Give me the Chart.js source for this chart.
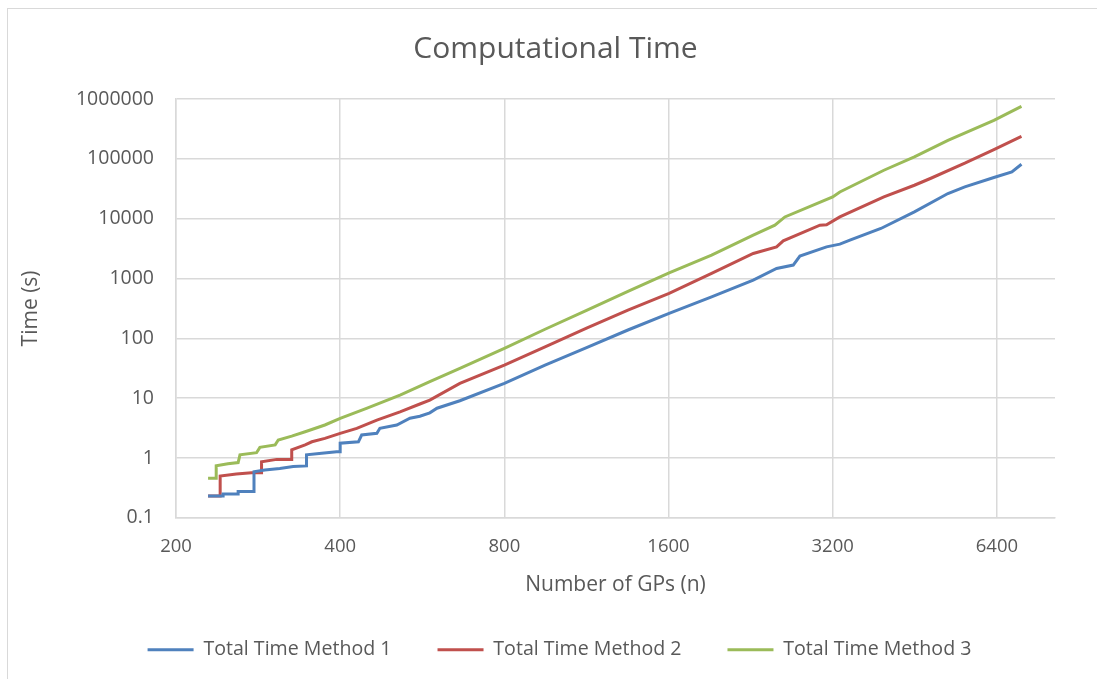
<!DOCTYPE html>
<html>
<head>
<meta charset="utf-8">
<title>Computational Time</title>
<script src="https://cdn.jsdelivr.net/npm/chart.js@4.4.1/dist/chart.umd.min.js"></script>
<style>
    html, body { margin: 0; padding: 0; background: #ffffff; }
    canvas { display: block; }
</style>
</head>
<body>
<canvas id="myChart" width="1097" height="679"></canvas>
<script>
"use strict";

let Chart = window.Chart;

// number of GPs (n) and total time (s)
const method1N = [229, 244, 244, 260, 260, 278, 278, 291, 310, 328, 347, 347, 370, 394, 400, 400, 432, 438, 467, 473,
    508, 537, 560, 584, 602, 663, 800, 950, 1132, 1348, 1604, 1919, 2288, 2525, 2709, 2786, 3118, 3298, 3441, 3922,
    4518, 5205, 5590, 6320, 6818, 7100];
const method1Time = [0.233, 0.233, 0.252, 0.252, 0.275, 0.275, 0.59, 0.63, 0.67, 0.72, 0.74, 1.13, 1.2, 1.28, 1.28, 1.77, 1.87, 2.43, 2.6, 3.14,
    3.57, 4.62, 5.0, 5.7, 6.8, 9.08, 17.7, 35.8, 70, 138, 261, 495, 940, 1470, 1680, 2370, 3380, 3750, 4380, 6860,
    13000, 26300, 34000, 48800, 60500, 81300];

const method2N = [229, 241, 241, 258, 275, 287, 287, 306, 326, 326, 345, 355, 375, 400, 429, 467, 515, 560, 584, 663,
    800, 950, 1132, 1348, 1604, 1919, 2288, 2525, 2597, 3032, 3118, 3298, 3972, 4518, 4844, 5590, 6320, 7100];
const method2Time = [0.233, 0.233, 0.50, 0.54, 0.57, 0.57, 0.87, 0.95, 0.95, 1.37, 1.66, 1.87, 2.13, 2.59, 3.14, 4.3, 5.93, 8.0, 9.3, 17.7,
    35.8, 72, 148, 297, 564, 1215, 2620, 3380, 4260, 7780, 7900, 10700, 23100, 36200, 47400, 84500, 143000, 238000];

const method3N = [229, 237, 237, 249, 260, 262, 281, 285, 304, 308, 326, 345, 375, 400, 447, 515, 584, 663, 800, 950,
    1132, 1348, 1604, 1919, 2288, 2507, 2615, 3200, 3298, 3972, 4518, 5205, 6320, 7100];
const method3Time = [0.46, 0.46, 0.74, 0.80, 0.84, 1.13, 1.23, 1.51, 1.66, 2.0, 2.33, 2.75, 3.57, 4.62, 6.77, 11.3, 18.9, 31.6, 68, 142,
    293, 610, 1244, 2460, 5310, 7780, 10700, 23100, 28000, 64500, 107700, 204000, 440000, 755000];

const seriesNames = ['Total Time Method 1', 'Total Time Method 2', 'Total Time Method 3'];
const xTicks = [200, 400, 800, 1600, 3200, 6400];
const yTicks = [0.1, 1, 10, 100, 1000, 10000, 100000, 1000000];

const colors = ['#4F81BD', '#C0504D', '#9BBB59'];
const textColor = '#595959';
const gridColor = '#D9D9D9';
const fontFamily = "'Open Sans', sans-serif";


function toPoints(xs, ys) {
    return xs.map((x, i) => ({x: x, y: ys[i]}));
}

function createDatasets() {
    const series = [
        toPoints(method1N, method1Time),
        toPoints(method2N, method2Time),
        toPoints(method3N, method3Time),
    ];
    return series.map((data, i) => ({
        label: seriesNames[i],
        data: data,
        borderColor: colors[i],
        backgroundColor: colors[i],
        borderWidth: 3,
        pointRadius: 0,
        tension: 0,
        fill: false,
    }));
}

// light frame round the chart, like the Excel chart area border
const framePlugin = {
    id: 'frame',
    beforeDraw(chart) {
        const ctx = chart.ctx;
        ctx.save();
        ctx.fillStyle = '#ffffff';
        ctx.fillRect(0, 0, chart.width, chart.height);
        ctx.strokeStyle = gridColor;
        ctx.lineWidth = 1;
        ctx.strokeRect(7.5, 8.5, chart.width + 20, chart.height + 20);
        ctx.restore();
    }
};

// title and legend sit right of the plot centre in the reference
const boxShift = {
    id: 'boxShift',
    afterLayout(chart) {
        if (chart.legend) {
            chart.legend.left += 32;
            chart.legend.right += 32;
        }
        if (chart.titleBlock) {
            chart.titleBlock.left += 28;
            chart.titleBlock.right += 28;
        }
    }
};

function createConfig(datasets) {
    return {
        type: 'line',
        data: {
            datasets,
        },
        plugins: [framePlugin, boxShift],
        options: {
            responsive: false,
            animation: false,
            layout: {
                padding: {top: 0, left: 0, right: 42, bottom: 9.5}
            },
            plugins: {
                title: {
                    display: true,
                    text: 'Computational Time',
                    color: textColor,
                    font: {family: fontFamily, size: 30, weight: 'normal'},
                    padding: {top: 31.5, bottom: 31.5},
                },
                legend: {
                    position: 'bottom',
                    labels: {
                        color: textColor,
                        font: {family: fontFamily, size: 19.6},
                        usePointStyle: true,
                        pointStyle: 'line',
                        pointStyleWidth: 46,
                        padding: 46,
                    }
                },
                tooltip: {enabled: false},
            },
            scales: {
                x: {
                    type: 'logarithmic',
                    min: 200,
                    max: 8180,
                    afterBuildTicks(scale) {
                        scale.ticks = xTicks.map(v => ({value: v}));
                    },
                    afterFit(scale) {
                        scale.height = 76;
                    },
                    ticks: {
                        color: textColor,
                        font: {family: fontFamily, size: 18.5},
                        padding: 18,
                        maxRotation: 0,
                        autoSkip: false,
                        callback: value => String(value),
                    },
                    grid: {color: gridColor, lineWidth: 1.5, drawTicks: false},
                    border: {color: gridColor, width: 1.5},
                    title: {
                        display: true,
                        text: 'Number of GPs (n)',
                        color: textColor,
                        font: {family: fontFamily, size: 21},
                        padding: {top: 0, bottom: -4},
                    }
                },
                y: {
                    type: 'logarithmic',
                    min: 0.1,
                    max: 1000000,
                    afterBuildTicks(scale) {
                        scale.ticks = yTicks.map(v => ({value: v}));
                    },
                    afterFit(scale) {
                        scale.width = 176;
                    },
                    ticks: {
                        color: textColor,
                        font: {family: fontFamily, size: 19.5},
                        padding: 22,
                        autoSkip: false,
                        callback: value => String(value),
                    },
                    grid: {color: gridColor, lineWidth: 1.5, drawTicks: false},
                    border: {color: gridColor, width: 1.5},
                    title: {
                        display: true,
                        text: 'Time (s)',
                        color: textColor,
                        font: {family: fontFamily, size: 21},
                        padding: {top: 18.5, bottom: 0},
                    }
                }
            }
        }
    };
}

function createChart() {
    const datasets = createDatasets();
    const config = createConfig(datasets);
    return new Chart(document.getElementById('myChart'), config);
}

createChart();
</script>
</body>
</html>
